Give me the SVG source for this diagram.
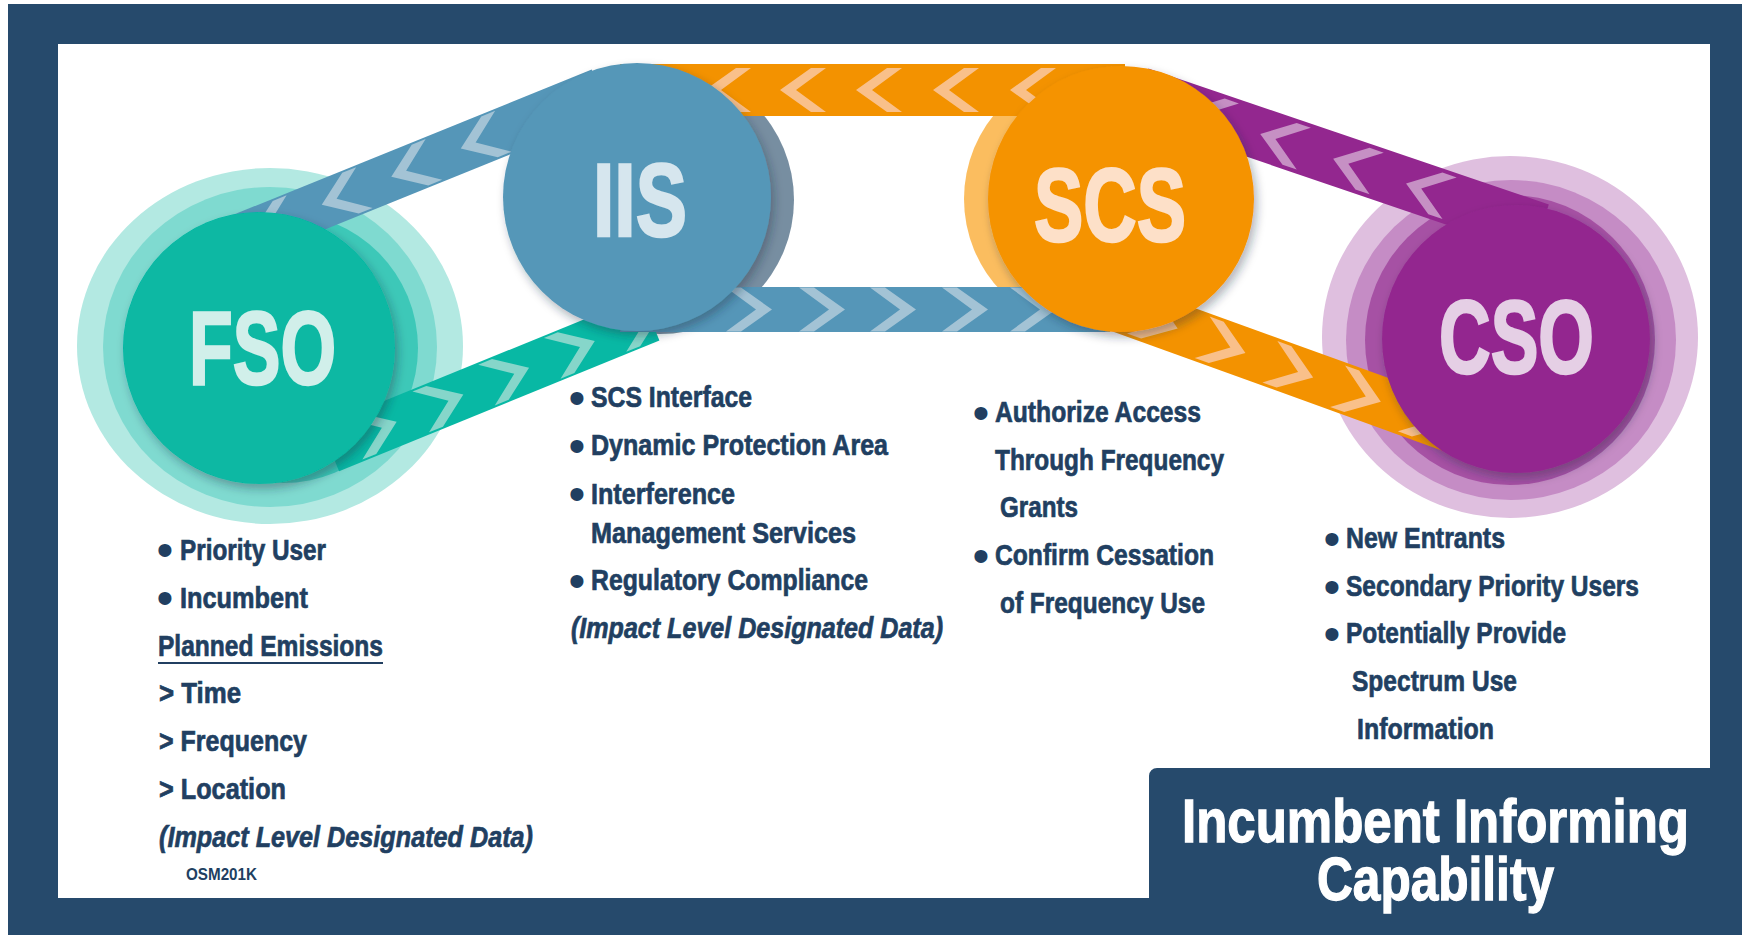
<svg xmlns="http://www.w3.org/2000/svg" width="1742" height="935" viewBox="0 0 1742 935">
<defs>
<style>
.lbl{font-family:"Liberation Sans Narrow","Liberation Sans",Arial,sans-serif;font-weight:bold;}
.big{font-size:103px;stroke-width:2.5px;}
.t{font-size:30px;fill:#213f61;stroke:#213f61;stroke-width:0.7px;}
.it{font-style:italic;}
.bul{font-family:"Liberation Sans",Arial,sans-serif;font-size:48px;fill:#213f61;text-anchor:middle;}
.title{font-size:61px;fill:#ffffff;stroke:#ffffff;stroke-width:1.3px;}
</style>
<filter id="sh" x="-20%" y="-20%" width="140%" height="140%">
<feDropShadow dx="3" dy="5" stdDeviation="5" flood-color="#1a2a3a" flood-opacity="0.35"/>
</filter>
<path id="chL" d="M-22,0 L9,-22 L24,-22 L-6,0 L24,22 L9,22 Z"/>
<path id="chR" d="M22,0 L-9,-22 L-24,-22 L6,0 L-24,22 L-9,22 Z"/>
</defs>

<!-- frame -->
<rect x="8" y="4" width="1734" height="931" fill="#264a6c"/>
<path d="M58,44 H1710 V768 H1157 A8,8 0 0 0 1149,776 V898 H58 Z" fill="#ffffff"/>

<!-- halos and back crescents -->
<g id="fso-halo">
<ellipse cx="270" cy="346" rx="193" ry="178" fill="#b3e9e2"/>
<ellipse cx="270" cy="347" rx="167" ry="160" fill="#7fdad0"/>
<circle cx="283" cy="348" r="135" fill="#3dc8b8"/>
</g>
<g id="cso-halo">
<ellipse cx="1510" cy="337" rx="188" ry="181" fill="#dfbfdf"/>
<ellipse cx="1511" cy="340" rx="165" ry="160" fill="#c58cc5"/>
<circle cx="1510" cy="340" r="145" fill="#a651a4"/>
</g>
<circle id="iis-back" cx="660" cy="200" r="134" fill="#778ea1"/>
<circle id="scs-back" cx="1097" cy="199" r="133" fill="#fbbd5f"/>

<!-- connectors -->
<g id="connectors">
<g id="fso-iis-bottom" transform="translate(330,449) rotate(-22.2)">
<rect x="0" y="-24" width="346" height="48" fill="#08b8a4"/>
<g fill="#86d6ca">
<use href="#chR" x="50"/><use href="#chR" x="122"/><use href="#chR" x="193"/><use href="#chR" x="264"/><use href="#chR" x="335"/>
</g>
</g>
<g id="iis-fso-top" transform="translate(230,242) rotate(-22.05)">
<rect x="0" y="-24" width="400" height="48" fill="#5596b8"/>
<g fill="#a3c3d5">
<use href="#chL" x="46"/><use href="#chL" x="121"/><use href="#chL" x="196"/><use href="#chL" x="271"/>
</g>
</g>
<g id="scs-iis-top">
<rect x="620" y="64" width="505" height="52" fill="#f39200"/>
<g fill="#f9c08a">
<use href="#chL" x="727" y="90"/><use href="#chL" x="802" y="90"/><use href="#chL" x="878" y="90"/><use href="#chL" x="955" y="90"/><use href="#chL" x="1032" y="90"/>
</g>
</g>
<g id="iis-scs-bottom">
<rect x="620" y="287" width="490" height="45" fill="#5596b8"/>
<g fill="#a3c3d5">
<use href="#chR" x="750" y="309.5"/><use href="#chR" x="823" y="309.5"/><use href="#chR" x="894" y="309.5"/><use href="#chR" x="966" y="309.5"/><use href="#chR" x="1034" y="309.5"/>
</g>
</g>
<g id="cso-scs-top" transform="translate(1140,93) rotate(18.78)">
<rect x="0" y="-26" width="423" height="52" fill="#93278f"/>
<g fill="#c690c4">
<use href="#chL" x="73"/><use href="#chL" x="149"/><use href="#chL" x="226"/><use href="#chL" x="303"/>
</g>
</g>
<g id="scs-cso-bottom" transform="translate(1110,304) rotate(19.86)">
<rect x="0" y="-25" width="383" height="50" fill="#f39200"/>
<g fill="#f9c08a">
<use href="#chR" x="50"/><use href="#chR" x="122"/><use href="#chR" x="194"/><use href="#chR" x="266"/><use href="#chR" x="338"/>
</g>
</g>
</g>

<!-- nodes -->
<g id="node-fso">
<circle cx="259" cy="348" r="136" fill="#07b8a3" filter="url(#sh)"/>
<text class="lbl big" x="189" y="384" textLength="147" lengthAdjust="spacingAndGlyphs" fill="#d1efea" stroke="#d1efea">FSO</text>
</g>
<g id="node-iis">
<circle cx="637" cy="197" r="134" fill="#5597b8" filter="url(#sh)"/>
<text class="lbl big" x="593" y="236" textLength="94" lengthAdjust="spacingAndGlyphs" fill="#d6e6ee" stroke="#d6e6ee">IIS</text>
</g>
<g id="node-scs">
<circle cx="1121" cy="199" r="133" fill="#f59300" filter="url(#sh)"/>
<text class="lbl big" x="1034" y="241" textLength="152" lengthAdjust="spacingAndGlyphs" fill="#fde0c8" stroke="#fde0c8">SCS</text>
</g>
<g id="node-cso">
<circle cx="1516" cy="339" r="134" fill="#93278f" filter="url(#sh)"/>
<text class="lbl big" x="1439" y="373" textLength="155" lengthAdjust="spacingAndGlyphs" fill="#e5cfe5" stroke="#e5cfe5">CSO</text>
</g>

<!-- notes -->
<g id="fso-notes">
<text class="bul" x="165" y="566">•</text>
<text class="lbl t" x="180" y="560" textLength="146" lengthAdjust="spacingAndGlyphs">Priority User</text>
<text class="bul" x="165" y="614">•</text>
<text class="lbl t" x="180" y="608" textLength="128" lengthAdjust="spacingAndGlyphs">Incumbent</text>
<text class="lbl t" x="158" y="656" textLength="225" lengthAdjust="spacingAndGlyphs">Planned Emissions</text>
<line x1="158" y1="663" x2="383" y2="663" stroke="#213f61" stroke-width="2"/>
<text class="lbl t" x="159" y="703" textLength="82" lengthAdjust="spacingAndGlyphs">&gt; Time</text>
<text class="lbl t" x="159" y="751" textLength="148" lengthAdjust="spacingAndGlyphs">&gt; Frequency</text>
<text class="lbl t" x="159" y="799" textLength="127" lengthAdjust="spacingAndGlyphs">&gt; Location</text>
<text class="lbl t it" x="159" y="847" textLength="374" lengthAdjust="spacingAndGlyphs">(Impact Level Designated Data)</text>
<text class="lbl" x="186" y="880" font-size="17" fill="#213f61" textLength="71" lengthAdjust="spacingAndGlyphs">OSM201K</text>
</g>
<g id="iis-notes">
<text class="bul" x="577" y="414">•</text>
<text class="lbl t" x="591" y="407" textLength="161" lengthAdjust="spacingAndGlyphs">SCS Interface</text>
<text class="bul" x="577" y="462">•</text>
<text class="lbl t" x="591" y="455" textLength="297" lengthAdjust="spacingAndGlyphs">Dynamic Protection Area</text>
<text class="bul" x="577" y="510">•</text>
<text class="lbl t" x="591" y="504" textLength="144" lengthAdjust="spacingAndGlyphs">Interference</text>
<text class="lbl t" x="591" y="543" textLength="265" lengthAdjust="spacingAndGlyphs">Management Services</text>
<text class="bul" x="577" y="597">•</text>
<text class="lbl t" x="591" y="590" textLength="277" lengthAdjust="spacingAndGlyphs">Regulatory Compliance</text>
<text class="lbl t it" x="571" y="638" textLength="372" lengthAdjust="spacingAndGlyphs">(Impact Level Designated Data)</text>
</g>
<g id="scs-notes">
<text class="bul" x="981" y="429">•</text>
<text class="lbl t" x="995" y="422" textLength="206" lengthAdjust="spacingAndGlyphs">Authorize Access</text>
<text class="lbl t" x="995" y="470" textLength="229" lengthAdjust="spacingAndGlyphs">Through Frequency</text>
<text class="lbl t" x="1000" y="517" textLength="78" lengthAdjust="spacingAndGlyphs">Grants</text>
<text class="bul" x="981" y="572">•</text>
<text class="lbl t" x="995" y="565" textLength="219" lengthAdjust="spacingAndGlyphs">Confirm Cessation</text>
<text class="lbl t" x="1000" y="613" textLength="205" lengthAdjust="spacingAndGlyphs">of Frequency Use</text>
</g>
<g id="cso-notes">
<text class="bul" x="1332" y="555">•</text>
<text class="lbl t" x="1346" y="548" textLength="159" lengthAdjust="spacingAndGlyphs">New Entrants</text>
<text class="bul" x="1332" y="603">•</text>
<text class="lbl t" x="1346" y="596" textLength="293" lengthAdjust="spacingAndGlyphs">Secondary Priority Users</text>
<text class="bul" x="1332" y="650">•</text>
<text class="lbl t" x="1346" y="643" textLength="220" lengthAdjust="spacingAndGlyphs">Potentially Provide</text>
<text class="lbl t" x="1352" y="691" textLength="165" lengthAdjust="spacingAndGlyphs">Spectrum Use</text>
<text class="lbl t" x="1357" y="739" textLength="137" lengthAdjust="spacingAndGlyphs">Information</text>
</g>

<g id="title">
<text class="lbl title" x="1182" y="842" textLength="507" lengthAdjust="spacingAndGlyphs">Incumbent Informing</text>
<text class="lbl title" x="1317" y="900" textLength="237" lengthAdjust="spacingAndGlyphs">Capability</text>
</g>
</svg>
